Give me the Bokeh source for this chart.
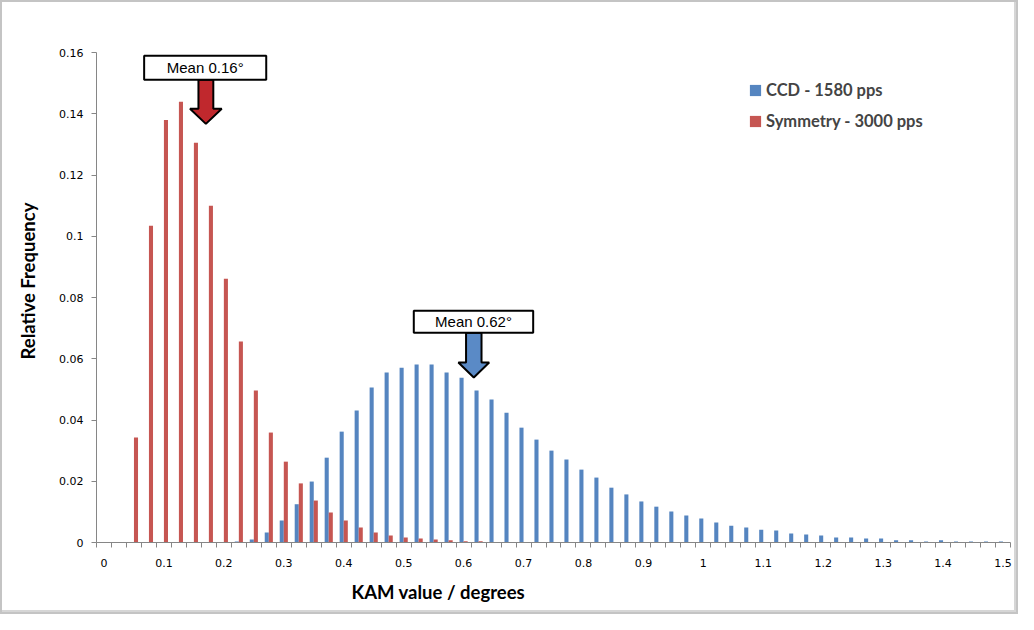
from bokeh.plotting import figure
from bokeh.models import ColumnDataSource, FixedTicker, Legend, LegendItem, Title
from bokeh.transform import dodge
from bokeh.core.properties import value
from bokeh.embed import file_html
from bokeh.resources import INLINE

# KAM bins (degrees), one category per 0.025
kam_bins = [0.0, 0.025, 0.05, 0.075, 0.1, 0.125, 0.15, 0.175, 0.2, 0.225,
            0.25, 0.275, 0.3, 0.325, 0.35, 0.375, 0.4, 0.425, 0.45, 0.475,
            0.5, 0.525, 0.55, 0.575, 0.6, 0.625, 0.65, 0.675, 0.7, 0.725,
            0.75, 0.775, 0.8, 0.825, 0.85, 0.875, 0.9, 0.925, 0.95, 0.975,
            1.0, 1.025, 1.05, 1.075, 1.1, 1.125, 1.15, 1.175, 1.2, 1.225,
            1.25, 1.275, 1.3, 1.325, 1.35, 1.375, 1.4, 1.425, 1.45, 1.475, 1.5]

ccd_1580 = [0, 0, 0, 0, 0, 0, 0, 0, 0, 0.0003,
            0.001, 0.0033, 0.0072, 0.0125, 0.0199, 0.0277, 0.0362, 0.0431, 0.0506, 0.0555,
            0.0571, 0.0581, 0.0581, 0.0555, 0.0538, 0.0496, 0.0467, 0.0424, 0.0375, 0.0336,
            0.030, 0.0271, 0.0238, 0.0212, 0.0179, 0.0157, 0.0134, 0.0117, 0.0101, 0.0088,
            0.0078, 0.0065, 0.0055, 0.0049, 0.0042, 0.0039, 0.0029, 0.0026, 0.0023, 0.0016,
            0.0016, 0.0013, 0.0013, 0.0007, 0.0007, 0.0003, 0.0007, 0.0003, 0.0003, 0.0003,
            0.0003]

symmetry_3000 = [0, 0, 0.0343, 0.1034, 0.138, 0.1439, 0.1305, 0.110, 0.0861, 0.0656,
                 0.0496, 0.0359, 0.0264, 0.0193, 0.0137, 0.0098, 0.0072, 0.0049, 0.0033, 0.0023,
                 0.0016, 0.0013, 0.001, 0.0007, 0.0004, 0.0004, 0.0002, 0.0002, 0, 0,
                 0, 0, 0, 0, 0, 0, 0, 0, 0, 0,
                 0, 0, 0, 0, 0, 0, 0, 0, 0, 0,
                 0, 0, 0, 0, 0, 0, 0, 0, 0, 0,
                 0]

x_tick_values = [0, 0.1, 0.2, 0.3, 0.4, 0.5, 0.6, 0.7, 0.8, 0.9, 1, 1.1, 1.2, 1.3, 1.4, 1.5]
x_tick_labels = ["0", "0.1", "0.2", "0.3", "0.4", "0.5", "0.6", "0.7", "0.8", "0.9",
                 "1", "1.1", "1.2", "1.3", "1.4", "1.5"]
y_tick_values = [0, 0.02, 0.04, 0.06, 0.08, 0.1, 0.12, 0.14, 0.16]
y_tick_labels = ["0", "0.02", "0.04", "0.06", "0.08", "0.1", "0.12", "0.14", "0.16"]

series_names = ["CCD - 1580 pps", "Symmetry - 3000 pps"]
mean_labels = ["Mean 0.16\u00b0", "Mean 0.62\u00b0"]

BLUE = "#5585C0"
RED = "#C65652"
AXIS = "#868686"
bar_w = 0.0068
step = 0.025

source = ColumnDataSource(data=dict(kam=kam_bins, ccd=ccd_1580, sym=symmetry_3000))

p = figure(width=1018, height=614, x_range=(-step / 2, 1.5 + step / 2), y_range=(0, 0.16),
           output_backend="svg", toolbar_location=None,
           min_border_left=96, min_border_right=8, min_border_top=52, min_border_bottom=72)
p.outline_line_color = None
p.grid.visible = False
p.background_fill_color = "white"
p.border_fill_alpha = 0
p.styles = {"background-color": "white",
            "box-shadow": "inset 0 0 0 2px #c4c4c4, inset -3px -3px 0 1px #d6d6d6"}

r_ccd = p.vbar(x=dodge("kam", -bar_w / 2, range=p.x_range), top="ccd", width=bar_w,
               source=source, fill_color=BLUE, line_color=None)
r_sym = p.vbar(x=dodge("kam", bar_w / 2, range=p.x_range), top="sym", width=bar_w,
               source=source, fill_color=RED, line_color=None)

# axes
p.yaxis.ticker = FixedTicker(ticks=y_tick_values, minor_ticks=[])
p.yaxis.major_label_overrides = dict(zip(y_tick_values, y_tick_labels))
p.xaxis.ticker = FixedTicker(ticks=x_tick_values,
                             minor_ticks=[k - step / 2 for k in kam_bins] + [1.5 + step / 2])
p.xaxis.major_label_overrides = dict(zip(x_tick_values, x_tick_labels))
for ax in (p.xaxis, p.yaxis):
    ax.axis_line_color = AXIS
    ax.major_tick_line_color = AXIS
    ax.minor_tick_line_color = AXIS
    ax.major_label_text_font = "DejaVu Sans"
    ax.major_label_text_font_size = "11px"
    ax.major_label_text_color = "#000000"
p.yaxis.major_tick_out = 5
p.yaxis.major_tick_in = 0
p.yaxis.minor_tick_out = 0
p.yaxis.major_label_standoff = 8
p.xaxis.major_tick_out = 0
p.xaxis.major_tick_in = 0
p.xaxis.minor_tick_out = 5
p.xaxis.minor_tick_in = 0
p.xaxis.major_label_standoff = 11

# axis titles as side titles, shifted like the original
p.add_layout(Title(text="KAM value / degrees", align="left", offset=255,
                   vertical_align="bottom",
                   text_font="Lato", text_font_style="bold", text_font_size="18.5px",
                   text_color="black", standoff=18), "below")
p.add_layout(Title(text="Relative Frequency", align="left", offset=183,
                   vertical_align="top",
                   text_font="Lato", text_font_style="bold", text_font_size="18.5px",
                   text_color="black", standoff=31), "left")

# mean call-outs: box + block arrow pointing down
def callout(tip_x, tip_y, head_base, shaft_hw, head_hw, box, label, color):
    left, right, bottom, top = box
    xs = [tip_x - shaft_hw, tip_x + shaft_hw, tip_x + shaft_hw, tip_x + head_hw,
          tip_x, tip_x - head_hw, tip_x - shaft_hw]
    ys = [bottom, bottom, head_base, head_base, tip_y, head_base, head_base]
    p.patch(xs, ys, fill_color=color, line_color="black", line_width=2)
    p.quad(left=[left], right=[right], bottom=[bottom], top=[top],
           fill_color="white", line_color="black", line_width=2)
    p.text(x=[(left + right) / 2], y=[(bottom + top) / 2], text=[label],
           text_font=value("Liberation Sans"), text_font_size="15px",
           text_align="center", text_baseline="middle", text_color="black")

callout(0.170, 0.1367, 0.1416, 0.0124, 0.0265, (0.0670, 0.2707, 0.1511, 0.1589),
        mean_labels[0], "#C0282D")
callout(0.617, 0.0539, 0.0588, 0.0129, 0.0257, (0.5169, 0.7161, 0.0685, 0.0757),
        mean_labels[1], "#5A8AC6")

legend = Legend(items=[LegendItem(label=series_names[0], renderers=[r_ccd]),
                       LegendItem(label=series_names[1], renderers=[r_sym])],
                location=(652, 411))
legend.label_text_font = "Lato"
legend.label_text_font_style = "bold"
legend.label_text_font_size = "16.5px"
legend.glyph_width = 14
legend.glyph_height = 14
legend.label_height = 20
legend.label_standoff = 4
legend.spacing = 11
legend.padding = 0
legend.margin = 0
legend.border_line_color = None
legend.background_fill_alpha = 0
p.add_layout(legend)

open("out.html", "w").write(file_html(p, INLINE))
